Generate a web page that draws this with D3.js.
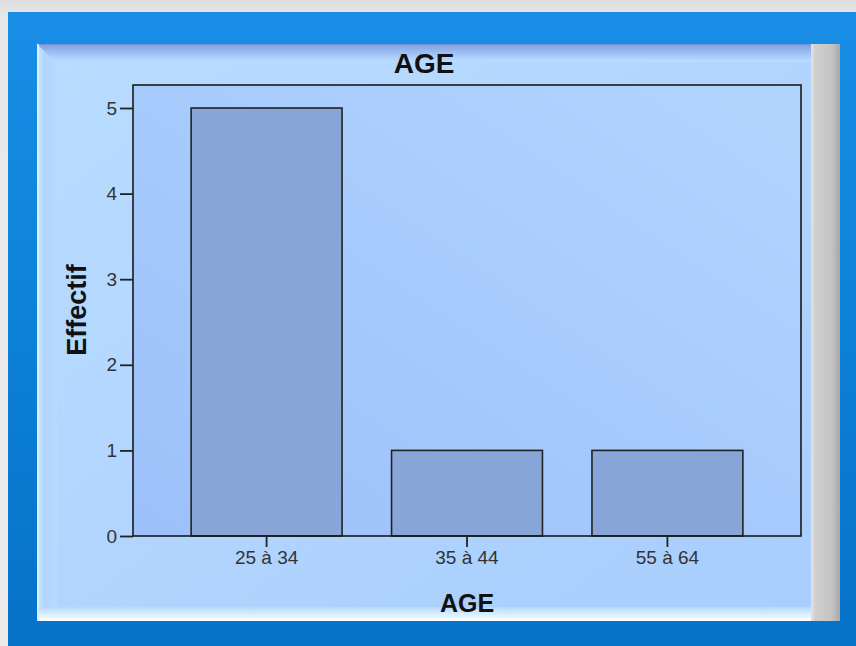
<!DOCTYPE html>
<html><head><meta charset="utf-8">
<script src="https://cdn.jsdelivr.net/npm/d3@7"></script>
<style>html,body{margin:0;padding:0;background:#e8e8e8;overflow:hidden}svg{display:block}</style>
</head><body>
<script>
const categories = ["25 à 34", "35 à 44", "55 à 64"];
const counts = [5, 1, 1];
const yTicks = [0, 1, 2, 3, 4, 5];
const chartTitle = "AGE";
const xTitle = "AGE";
const yTitle = "Effectif";

const W = 856, H = 646;
const svg = d3.select("body").append("svg").attr("width", W).attr("height", H);
const defs = svg.append("defs");

function lg(id, x1, y1, x2, y2, stops) {
  const g = defs.append("linearGradient").attr("id", id)
    .attr("x1", x1).attr("y1", y1).attr("x2", x2).attr("y2", y2);
  stops.forEach(s => g.append("stop").attr("offset", s[0]).attr("stop-color", s[1]));
}
lg("bg", 0, 0, 0, 1, [[0, "#dedede"], [0.03, "#e8e8e8"], [1, "#ececec"]]);
lg("frame", 0, 0, 0, 1, [[0, "#1a8ee6"], [0.5, "#0d80d8"], [1, "#0672c8"]]);
lg("panel", 0, 0, 1, 1, [[0, "#b9ddff"], [1, "#a9cdfd"]]);
lg("topbev", 0, 0, 0, 1, [[0, "#7f9fe0"], [0.5, "#9fbff4"], [1, "#b9e0ff"]]);
lg("leftbev", 0, 0, 1, 0, [[0, "#cbe8ff"], [0.4, "#b0d4fc"], [1, "#b8dcff"]]);
lg("botbev", 0, 0, 0, 1, [[0, "#b5d8ff"], [0.6, "#def2ff"], [1, "#ffffff"]]);
lg("grey", 0, 0, 1, 0, [[0, "#e4e4e4"], [0.15, "#cfcfcf"], [0.7, "#c4c4c4"], [1, "#a8a8a8"]]);
lg("plotbg", 1, 0, 0, 1, [[0, "#b2d5ff"], [1, "#9cc0fa"]]);

// outer background & frame
svg.append("rect").attr("width", W).attr("height", H).attr("fill", "url(#bg)");
svg.append("rect").attr("x", 8).attr("y", 12).attr("width", W - 8).attr("height", H - 12).attr("fill", "url(#frame)");

// panel
const P = {x0: 37, y0: 44, x1: 811, y1: 621};
svg.append("rect").attr("x", P.x0).attr("y", P.y0).attr("width", P.x1 - P.x0).attr("height", P.y1 - P.y0).attr("fill", "url(#panel)");
svg.append("rect").attr("x", P.x0).attr("y", P.y0).attr("width", P.x1 - P.x0).attr("height", 18).attr("fill", "url(#topbev)");
svg.append("polygon").attr("points", `${P.x0},${P.y0} ${P.x0+20},${P.y0+20} ${P.x0+20},${P.y1-12} ${P.x0},${P.y1}`).attr("fill", "url(#leftbev)");
svg.append("rect").attr("x", P.x0 + 2).attr("y", P.y1 - 14).attr("width", P.x1 - P.x0 - 2).attr("height", 14).attr("fill", "url(#botbev)");
svg.append("line").attr("x1", P.x0).attr("x2", P.x1).attr("y1", P.y0 + 0.5).attr("y2", P.y0 + 0.5).attr("stroke", "#6f8fcf").attr("stroke-width", 1);
svg.append("line").attr("x1", P.x0 + 1).attr("x2", P.x0 + 1).attr("y1", P.y0).attr("y2", P.y1).attr("stroke", "#d8efff").attr("stroke-width", 2);
// grey strip right
svg.append("rect").attr("x", 811).attr("y", P.y0).attr("width", 29).attr("height", P.y1 - P.y0).attr("fill", "url(#grey)");

// plot
const M = {left: 133, top: 85, right: 801, bottom: 536};
const x = d3.scaleBand().domain(categories).range([M.left, M.right]).paddingInner(0.247).paddingOuter(0.29);
const y = d3.scaleLinear().domain([0, 5]).range([M.bottom, 108]);

svg.append("rect").attr("x", M.left).attr("y", M.top).attr("width", M.right - M.left).attr("height", M.bottom - M.top)
  .attr("fill", "url(#plotbg)");

svg.append("g").selectAll("rect").data(categories).join("rect")
  .attr("x", d => x(d)).attr("y", (d, i) => y(counts[i]))
  .attr("width", x.bandwidth()).attr("height", (d, i) => y(0) - y(counts[i]))
  .attr("fill", "#87a6d7").attr("stroke", "#222").attr("stroke-width", 1.6);

svg.append("rect").attr("x", M.left).attr("y", M.top).attr("width", M.right - M.left).attr("height", M.bottom - M.top)
  .attr("fill", "none").attr("stroke", "#1a1a1a").attr("stroke-width", 1.6);

const yAxis = svg.append("g").attr("transform", `translate(${M.left},0)`)
  .call(d3.axisLeft(y).tickValues(yTicks).tickFormat(d3.format("d")).tickSize(13).tickPadding(3));
const xAxis = svg.append("g").attr("transform", `translate(0,${M.bottom})`)
  .call(d3.axisBottom(x).tickSize(11).tickPadding(7));
[yAxis, xAxis].forEach(a => {
  a.select(".domain").remove();
  a.selectAll(".tick line").attr("stroke", "#222").attr("stroke-width", 1.8);
  a.selectAll(".tick text").attr("fill", "#333").style("font-family", "Liberation Sans, Arial, sans-serif").style("font-size", "19px");
});
xAxis.selectAll(".tick text").attr("dy", "0.55em");

svg.append("text").attr("x", 424).attr("y", 73).attr("text-anchor", "middle")
  .style("font-family", "Liberation Sans, Arial, sans-serif").style("font-weight", "bold").style("font-size", "28px")
  .attr("fill", "#111").text(chartTitle);
svg.append("text").attr("x", (M.left + M.right) / 2).attr("y", 612).attr("text-anchor", "middle")
  .style("font-family", "Liberation Sans, Arial, sans-serif").style("font-weight", "bold").style("font-size", "25px")
  .attr("fill", "#111").text(xTitle);
svg.append("text").attr("transform", "translate(86,310) rotate(-90)").attr("text-anchor", "middle")
  .style("font-family", "Liberation Sans, Arial, sans-serif").style("font-weight", "bold").style("font-size", "27px")
  .attr("fill", "#111").text(yTitle);
</script>
</body></html>
